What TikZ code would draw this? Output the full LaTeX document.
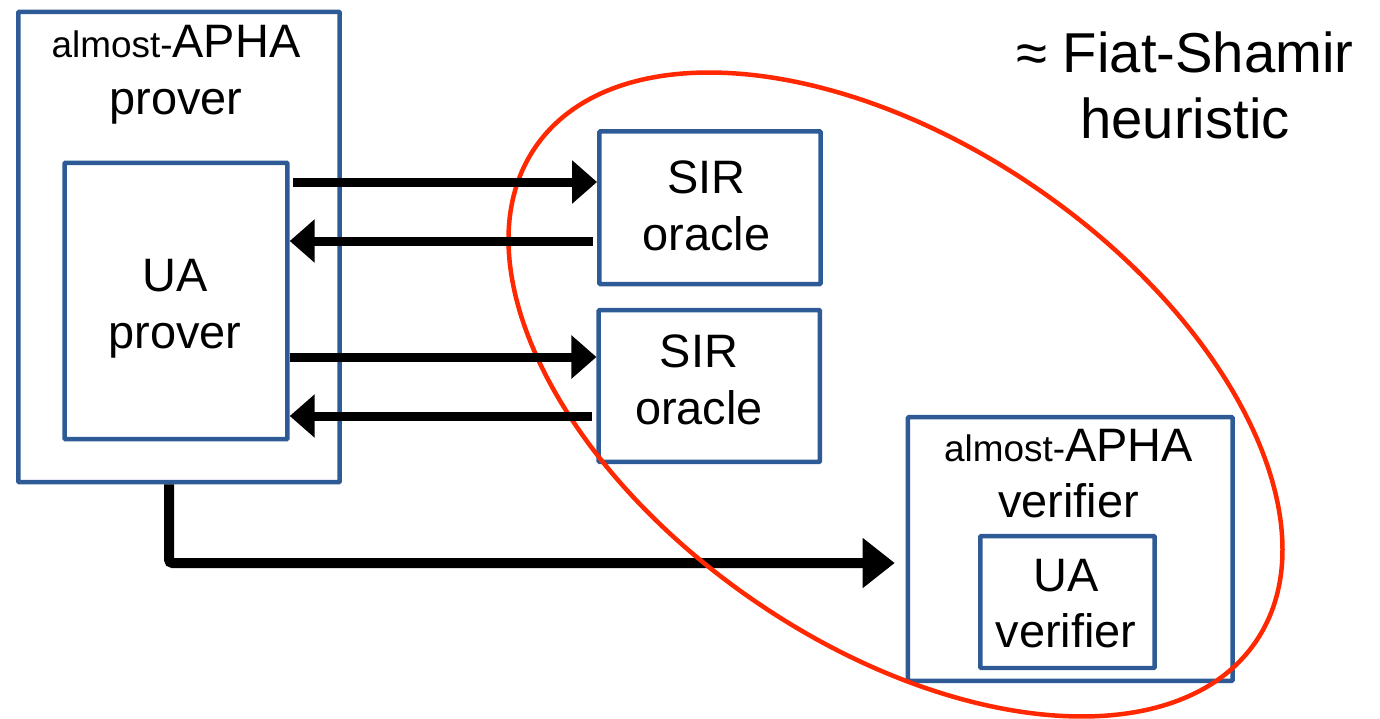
\documentclass[tikz,border=0pt]{standalone}
\usepackage{fontspec}
\setmainfont{Liberation Sans}
\usetikzlibrary{arrows.meta}
\definecolor{boxblue}{RGB}{46,90,150}
\definecolor{fsred}{RGB}{255,40,0}
\newcommand{\smallpart}[1]{{\fontsize{21}{25}\selectfont #1}}

\begin{document}
\begin{tikzpicture}[x=0.02cm,y=-0.02cm,
  box/.style={draw=boxblue,line width=0.09cm,rectangle,inner sep=0pt,
              rounded corners=0.6pt},
  lbl/.style={anchor=north,inner sep=0pt,align=center,
              font=\fontsize{26.7}{32.7}\selectfont},
  msg/.style={line width=0.18cm,-{Triangle[length=0.5cm,width=0.84cm]}},
  sendline/.style={line width=0.2cm,rounded corners=2pt,
              -{Triangle[length=0.64cm,width=0.96cm]}},
  oval/.style={draw=fsred,line width=0.09cm}]

\useasboundingbox (0,0) rectangle (1380,718);

% prover side
\node[box,minimum width=6.43cm,minimum height=9.41cm] (pout) at (179,247) {};
\node[box,minimum width=4.46cm,minimum height=5.53cm] (uap) at (176,301) {};
\node[lbl] (tpout) at (176,24.4) {\smallpart{almost-}APHA\\prover};
\node[lbl] (tuap) at (175,258.4) {UA\\prover};

% random oracles
\node[box,minimum width=4.43cm,minimum height=3.054cm] (sir1) at (710,207.7) {};
\node[box,minimum width=4.426cm,minimum height=3.04cm] (sir2) at (709.3,386) {};
\node[lbl] (tsir1) at (706.5,160) {SIR\\oracle};
\node[lbl] (tsir2) at (699,334) {SIR\\oracle};

% verifier side
\node[box,minimum width=6.494cm,minimum height=5.28cm] (ver) at (1070.3,549) {};
\node[box,minimum width=3.488cm,minimum height=2.64cm] (uav) at (1067.5,602) {};
\node[lbl,font=\fontsize{26.7}{31.9}\selectfont] (tver) at (1068.5,428.4) {\smallpart{almost-}APHA\\verifier};
\node[lbl,font=\fontsize{26.7}{31.9}\selectfont] (tuav) at (1066,558.4) {UA\\verifier};

% heading
\node[lbl,font=\fontsize{32}{37.6}\selectfont] (fs) at (1185,31) {≈ Fiat-Shamir\\heuristic};

% proof sent to the verifier
\coordinate (cb) at (169,563);
\draw[sendline] (pout.south -| cb) |- ([xshift=-0.22cm]ver.west |- cb);

% region covered by the transformation
\coordinate (oc) at (895.5,394.5);
\draw[oval,rotate around={-34.5:(oc)}] (oc) ellipse [x radius=8.74cm,y radius=5cm];

% oracle queries and answers
\coordinate (q1) at (0,182);
\coordinate (a1) at (0,241);
\coordinate (q2) at (0,357);
\coordinate (a2) at (0,416);
\draw[msg] ([xshift=0.07cm]uap.east |- q1) -- (sir1.west |- q1);
\draw[msg] ([xshift=-0.09cm]sir1.west |- a1) -- (uap.east |- a1);
\draw[msg] (uap.east |- q2) -- (sir2.west |- q2);
\draw[msg] ([xshift=-0.08cm]sir2.west |- a2) -- (uap.east |- a2);
\end{tikzpicture}
\end{document}
